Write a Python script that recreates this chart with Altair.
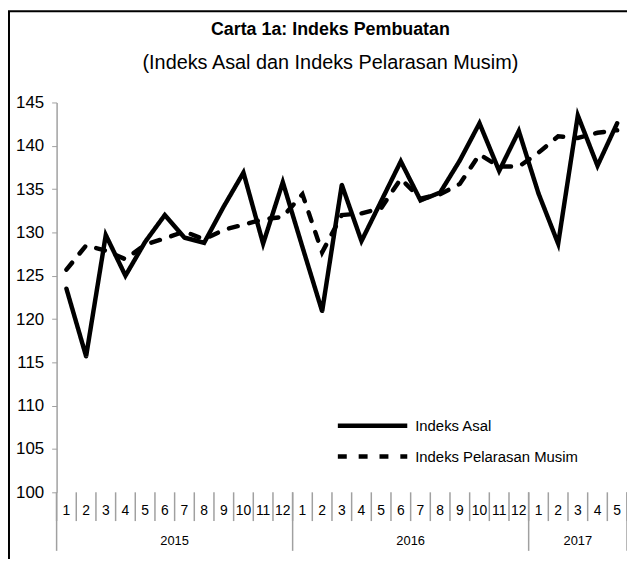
import altair as alt
import pandas as pd

# ---------------- data ----------------
years = ["2015"] * 12 + ["2016"] * 12 + ["2017"] * 5
months = list(range(1, 13)) + list(range(1, 13)) + list(range(1, 6))

indeks_asal = [123.5, 115.7, 129.7, 125.0, 128.9, 132.0, 129.4, 128.8, 133.0, 136.9, 128.7, 135.8,
               128.3, 120.9, 135.5, 129.0, 133.6, 138.2, 133.7, 134.6, 138.3, 142.6, 137.1, 141.7,
               134.5, 128.7, 143.5, 137.7, 142.6]
indeks_musim = [125.7, 128.5, 127.9, 126.9, 128.6, 129.3, 130.1, 129.2, 130.3, 130.9, 131.5, 131.8,
                134.4, 127.7, 132.0, 132.2, 132.8, 136.2, 133.9, 134.4, 135.6, 139.0, 137.6, 137.6,
                139.2, 141.1, 140.9, 141.5, 141.8]
series_names = ["Indeks Asal", "Indeks Pelarasan Musim"]
y_ticks = [100, 105, 110, 115, 120, 125, 130, 135, 140, 145]

title_text = "Carta 1a: Indeks Pembuatan"
subtitle_text = "(Indeks Asal dan Indeks Pelarasan Musim)"

# ---------------- layout ----------------
W, H = 575, 393
PAD_L, PAD_T, PAD_R, PAD_B = 49, 93, 0, 65
FONT = "Liberation Sans"
GREY = "#a0a0a0"

n = len(months)
idx = list(range(n))
df = pd.DataFrame({
    "idx": idx * 2,
    "series": [series_names[0]] * n + [series_names[1]] * n,
    "value": indeks_asal + indeks_musim,
})

month_df = pd.DataFrame({"idx": idx, "label": [str(m) for m in months]})
sep_df = pd.DataFrame({"pos": [i - 0.5 for i in range(n + 1)]})

year_order = list(dict.fromkeys(years))
year_first = [years.index(y) for y in year_order]
year_last = [len(years) - 1 - years[::-1].index(y) for y in year_order]
year_df = pd.DataFrame({
    "year": year_order,
    "center": [(a + b) / 2 for a, b in zip(year_first, year_last)],
})
ysep_df = pd.DataFrame({"pos": [a - 0.5 for a in year_first] + [year_last[-1] + 0.5]})
title_df = pd.DataFrame({"t": [title_text]})
subtitle_df = pd.DataFrame({"t": [subtitle_text]})

xscale = alt.Scale(domain=[-0.5, n - 0.5], nice=False, zero=False)

lines = alt.Chart(df).mark_line(strokeWidth=4.5, strokeCap="round", strokeJoin="miter").encode(
    x=alt.X("idx:Q", scale=xscale,
            axis=alt.Axis(labels=False, ticks=False, grid=False, title=None,
                          domainColor=GREY, domainWidth=1.5)),
    y=alt.Y("value:Q", scale=alt.Scale(domain=[100, 145], nice=False, zero=False),
            axis=alt.Axis(values=y_ticks, grid=False, title=None, tickSize=5,
                          tickColor=GREY, domainColor=GREY, domainWidth=1.5,
                          labelFontSize=17, labelColor="black", labelFont=FONT,
                          labelPadding=8)),
    color=alt.value("black"),
    strokeDash=alt.StrokeDash(
        "series:N",
        scale=alt.Scale(domain=series_names, range=[[1, 0], [9, 12]]),
        legend=alt.Legend(orient="none", legendX=298.5, legendY=306, title=None,
                          symbolType="M-2,0L2,0", symbolSize=1225, symbolStrokeWidth=4.5,
                          symbolStrokeColor="black", labelFontSize=15, labelFont=FONT,
                          labelColor="black", labelOffset=23, rowPadding=2,
                          labelLimit=400),
    ),
    order="idx:Q",
)

seps = alt.Chart(sep_df).mark_rule(color=GREY, strokeWidth=1.5).encode(
    x=alt.X("pos:Q", scale=xscale, axis=None),
    y=alt.value(H),
    y2=alt.value(H + 29),
)

ysep = alt.Chart(ysep_df).mark_rule(color=GREY, strokeWidth=1.5).encode(
    x=alt.X("pos:Q", scale=xscale, axis=None),
    y=alt.value(H),
    y2=alt.value(H + 59),
)

mlabels = alt.Chart(month_df).mark_text(fontSize=14, font=FONT, color="black",
                                        baseline="middle", align="center").encode(
    x=alt.X("idx:Q", scale=xscale, axis=None),
    y=alt.value(H + 19),
    text="label:N",
)

ylabels = alt.Chart(year_df).mark_text(fontSize=13, font=FONT, color="black",
                                       baseline="middle", align="center").encode(
    x=alt.X("center:Q", scale=xscale, axis=None),
    y=alt.value(H + 49),
    text="year:N",
)

title_mark = alt.Chart(title_df).mark_text(fontSize=18, font=FONT, fontWeight="bold",
                                           color="black", baseline="middle",
                                           align="center").encode(
    x=alt.value(276), y=alt.value(-73), text="t:N",
)
subtitle_mark = alt.Chart(subtitle_df).mark_text(fontSize=20, font=FONT, color="black",
                                                 baseline="middle", align="center").encode(
    x=alt.value(276), y=alt.value(-40), text="t:N",
)

border = alt.Chart(pd.DataFrame({"a": [0]})).mark_rect(
    fillOpacity=0, stroke="black", strokeWidth=2).encode(
    x=alt.value(-PAD_L + 1), x2=alt.value(W + 60),
    y=alt.value(-PAD_T + 1), y2=alt.value(H + 200),
)

chart = alt.layer(border, title_mark, subtitle_mark, seps, ysep, mlabels, ylabels, lines).properties(
    width=W, height=H,
    padding={"left": PAD_L, "top": PAD_T, "right": PAD_R, "bottom": PAD_B},
    autosize=alt.AutoSizeParams(type="none"),
).configure_view(stroke=None)

chart.save("out.html", embed_options={"renderer": "svg", "actions": False})
